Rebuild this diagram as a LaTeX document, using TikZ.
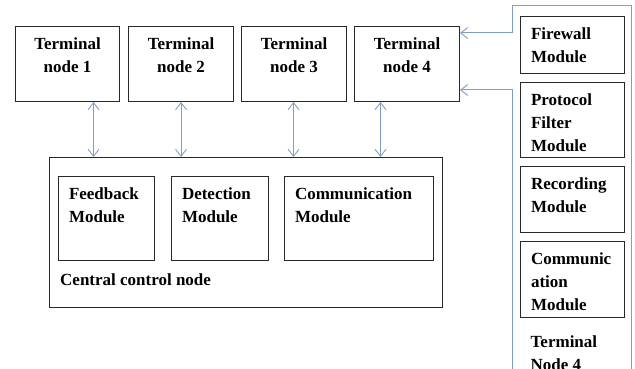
\documentclass[tikz,border=0pt]{standalone}
\usepackage{fontspec}
\setmainfont{Liberation Serif}
\usetikzlibrary{arrows.meta}
\definecolor{lnblue}{RGB}{128,158,196}
\definecolor{boxc}{RGB}{40,40,40}
\newcommand\ctext[3]{\parbox[t][#2][t]{#1}{\centering\rule{0pt}{23pt}#3}}
\newcommand\ltext[3]{\parbox[t][#2][t]{#1}{\raggedright\leftskip=10.5pt\rule{0pt}{23pt}#3}}
\begin{document}
\begin{tikzpicture}[x=1pt,y=-1pt,
  every node/.style={font=\fontsize{17}{23}\selectfont\bfseries},
  bx/.style={draw=boxc, line width=1pt, inner sep=0pt, anchor=north west},
  bl/.style={draw=lnblue, line width=1pt},
  tip/.style={-{Straight Barb[length=7pt,width=11pt,line width=0.9pt]}},
  bitip/.style={{Straight Barb[length=7pt,width=11pt,line width=0.9pt]}-{Straight Barb[length=7pt,width=11pt,line width=0.9pt]}}]
\useasboundingbox (0,0) rectangle (635,369);
% terminal nodes
\node[bx] (t1) at (15,26)  {\ctext{104pt}{75pt}{Terminal\\node 1}};
\node[bx] (t2) at (128,26) {\ctext{105pt}{75pt}{Terminal\\node 2}};
\node[bx] (t3) at (241,26) {\ctext{105pt}{75pt}{Terminal\\node 3}};
\node[bx] (t4) at (354,26) {\ctext{105pt}{75pt}{Terminal\\node 4}};
% central control node
\node[bx] (cc) at (49,157) {\parbox[t][150pt][t]{393pt}{\mbox{}}};
\node[anchor=base west, inner sep=0pt] (cclab) at (60,285) {Central control node};
\node[bx] (fb) at (58,176)  {\ltext{96pt}{84pt}{Feedback\\Module}};
\node[bx] (de) at (171,176) {\ltext{97pt}{84pt}{Detection\\Module}};
\node[bx] (co) at (284,176) {\ltext{149pt}{84pt}{Communication\\Module}};
% vertical arrows
\draw[bl,bitip] ([xshift=26pt]t1.south) -- ([xshift=26pt]t1.south |- cc.north);
\draw[bl,bitip] ([xshift=0pt]t2.south) -- ([xshift=0pt]t2.south |- cc.north);
\draw[bl,bitip] ([xshift=-0.5pt]t3.south) -- ([xshift=-0.5pt]t3.south |- cc.north);
\draw[bl,bitip] ([xshift=-26.5pt]t4.south) -- ([xshift=-26.5pt]t4.south |- cc.north);
% right panel
\coordinate (pa) at (512,33);
\coordinate (pb) at (512,90);
\draw[bl,tip] (631,385) -- (631,6) -- (512,6) -- (pa) -- (t4.east |- pa);
\draw[bl,tip] (512,385) -- (pb) -- (t4.east |- pb);
\node[bx] (fw) at (520,16)  {\ltext{104pt}{57pt}{Firewall\\Module}};
\node[bx] (pf) at (520,82)  {\ltext{104pt}{75pt}{Protocol\\Filter\\Module}};
\node[bx] (rc) at (520,166) {\ltext{104pt}{66pt}{Recording\\Module}};
\node[bx] (cm) at (520,241) {\ltext{104pt}{76pt}{Communic\\ation\\Module}};
\node[anchor=north west, inner sep=0pt] (tn4) at (520,324) {\ltext{104pt}{46pt}{Terminal\\Node 4}};
\end{tikzpicture}
\end{document}
